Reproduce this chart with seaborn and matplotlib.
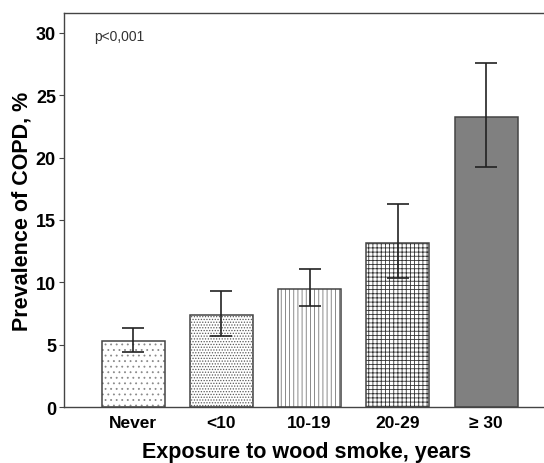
import matplotlib
matplotlib.use("Agg")
import matplotlib.pyplot as plt
from matplotlib.patches import Rectangle
import seaborn as sns
import pandas as pd
import numpy as np

categories = ["Never", "<10", "10-19", "20-29", "≥ 30"]
prevalence = [5.34, 7.39, 9.47, 13.13, 23.22]
ci_low = [4.46, 5.74, 8.09, 10.38, 19.27]
ci_high = [6.33, 9.29, 11.05, 16.25, 27.57]

sns.set_theme(style="white")
plt.rcParams["font.family"] = ["Liberation Sans", "DejaVu Sans"]
plt.rcParams["hatch.linewidth"] = 0.6

df = pd.DataFrame({"exposure": categories, "prev": prevalence})

W, H = 544, 464
left_px, bottom_px, top_px = 63.5, 408.3, 14.0
ax_w_px = W - left_px + 6
fig = plt.figure(figsize=(5.44, 4.64), dpi=100)
ax = fig.add_axes([left_px / W, 1 - bottom_px / H, ax_w_px / W, (bottom_px - top_px) / H])

sns.barplot(data=df, x="exposure", y="prev", order=categories, color="white",
            width=0.714, errorbar=None, ax=ax, zorder=2)

faces = ["white", "white", "white", "white", "#808080"]
hatch_cols = ["#8a8a8a", "#5a5a5a", "#777777", "#333333", "#444444"]
hatches = ["...", "......", "||||", "++++", None]
outline = "#444444"
for p, fc, hc, h in zip(list(ax.patches), faces, hatch_cols, hatches):
    p.set_facecolor(fc)
    p.set_edgecolor(hc)
    p.set_linewidth(0.0)
    if h:
        p.set_hatch(h)
    ax.add_patch(Rectangle(p.get_xy(), p.get_width(), p.get_height(), fill=False,
                           edgecolor=outline, linewidth=1.1, zorder=2.5))

x = np.arange(len(categories))
prev = np.array(prevalence)
yerr = np.vstack([prev - np.array(ci_low), np.array(ci_high) - prev])
ax.errorbar(x, prev, yerr=yerr, fmt="none", ecolor="#222222", elinewidth=1.2,
            capsize=7.8, capthick=1.2, zorder=3)

ax.set_xlim(-0.788, -0.788 + ax_w_px / 88.25)
ax.set_ylim(0, 31.57)
ax.set_yticks([0, 5, 10, 15, 20, 25, 30])

for side in ["left", "top", "bottom"]:
    ax.spines[side].set_color("#444444")
    ax.spines[side].set_linewidth(1.0)
ax.spines["right"].set_visible(False)

ax.tick_params(axis="y", left=True, length=3.6, width=0.8, color="#444444",
               pad=1.8, labelsize=13, labelcolor="black")
ax.tick_params(axis="x", bottom=False, length=0, pad=5.3, labelsize=12.5,
               labelcolor="black")
for lbl in ax.get_xticklabels() + ax.get_yticklabels():
    lbl.set_fontweight("bold")

ax.set_xlabel("Exposure to wood smoke, years", fontsize=15.5, fontweight="bold",
              color="black")
ax.set_ylabel("Prevalence of COPD, %", fontsize=15.5, fontweight="bold",
              color="black")
ax_w = ax_w_px
ax.xaxis.set_label_coords((306.2 - left_px) / ax_w, -0.085)
ax.yaxis.set_label_coords((33.0 - left_px) / ax_w, 0.5)

ax.text(-0.439, 29.7, "p<0,001", fontsize=10, color="#333333", ha="left",
        va="center")

fig.savefig("out.png", dpi=100)
